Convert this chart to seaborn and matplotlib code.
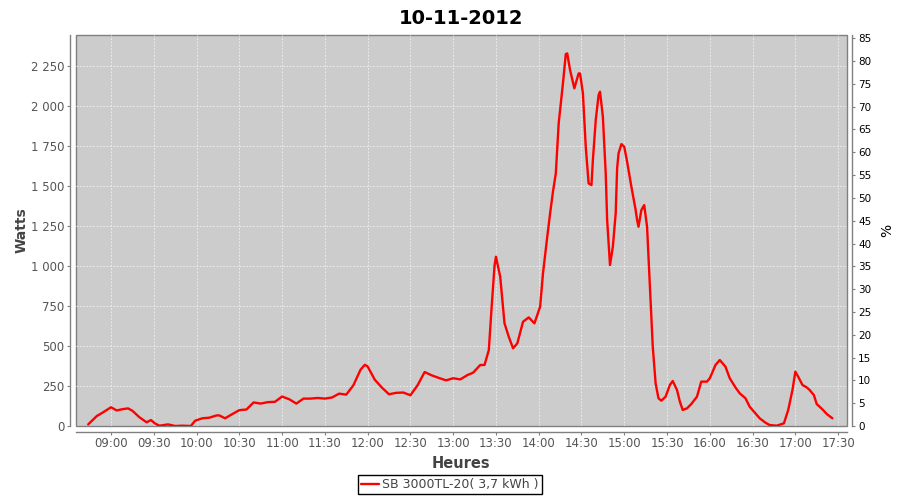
import pandas as pd
import numpy as np
import seaborn as sns
import matplotlib.pyplot as plt
import matplotlib.dates as mdates
from matplotlib.ticker import FuncFormatter, MultipleLocator

# Données (heure, puissance en W)
heures = ["08:44", "08:50", "08:54", "09:00", "09:04", "09:08", "09:12", "09:15", "09:20", "09:25",
          "09:28", "09:31", "09:34", "09:40", "09:45", "09:50", "09:56", "09:59", "10:04", "10:09",
          "10:14", "10:16", "10:20", "10:25", "10:30", "10:35", "10:40", "10:45", "10:50", "10:55",
          "11:00", "11:05", "11:10", "11:15", "11:20", "11:25", "11:30", "11:35", "11:40", "11:45",
          "11:50", "11:55", "11:58", "12:00", "12:05", "12:10", "12:15", "12:20", "12:25", "12:30",
          "12:35", "12:40", "12:45", "12:50", "12:55", "13:00", "13:05", "13:10", "13:14", "13:19",
          "13:22", "13:25", "13:27", "13:29", "13:30", "13:33", "13:36", "13:39", "13:42", "13:45",
          "13:49", "13:53", "13:57", "14:01", "14:03", "14:06", "14:08", "14:10", "14:12", "14:14",
          "14:17", "14:19", "14:20", "14:22", "14:25", "14:28", "14:29", "14:31", "14:33", "14:35",
          "14:37", "14:38", "14:40", "14:42", "14:43", "14:45", "14:47", "14:48", "14:50", "14:52",
          "14:54", "14:55", "14:56", "14:58", "15:00", "15:02", "15:05", "15:08", "15:09", "15:10",
          "15:12", "15:14", "15:16", "15:18", "15:20", "15:22", "15:24", "15:26", "15:29", "15:32",
          "15:34", "15:37", "15:39", "15:41", "15:44", "15:47", "15:51", "15:54", "15:58", "16:00",
          "16:04", "16:07", "16:11", "16:14", "16:18", "16:21", "16:25", "16:28", "16:32", "16:35",
          "16:39", "16:42", "16:47", "16:52", "16:55", "16:58", "17:00", "17:02", "17:05", "17:08",
          "17:10", "17:13", "17:15", "17:19", "17:22", "17:26"]
watts = [10, 62, 83, 117, 97, 105, 110, 95, 54, 23,
         37, 15, 2, 10, 0, 2, 0, 33, 48, 52,
         66, 66, 48, 74, 99, 103, 147, 140, 149, 151,
         184, 167, 140, 171, 171, 175, 171, 178, 202, 196,
         254, 351, 382, 372, 289, 240, 198, 207, 209, 192,
         254, 337, 316, 300, 285, 298, 291, 318, 333, 381,
         381, 474, 745, 1000, 1057, 932, 641, 557, 485, 516,
         651, 678, 641, 745, 953, 1182, 1328, 1463, 1577, 1889,
         2139, 2322, 2326, 2222, 2108, 2201, 2201, 2077, 1743, 1515,
         1504, 1660, 1910, 2066, 2087, 1931, 1577, 1286, 1005, 1119,
         1328, 1608, 1702, 1760, 1743, 1650, 1494, 1348, 1286, 1244,
         1348, 1379, 1244, 870, 495, 266, 173, 158, 183, 256,
         281, 225, 152, 100, 110, 137, 183, 277, 277, 298,
         381, 412, 370, 298, 241, 204, 173, 120, 79, 48,
         21, 6, 2, 17, 100, 225, 339, 308, 256, 241,
         225, 193, 137, 104, 75, 48]

jour = "2012-11-10"
titre = "10-11-2012"
serie = "SB 3000TL-20( 3,7 kWh )"

df = pd.DataFrame({"Heures": pd.to_datetime([jour + " " + h for h in heures]),
                   "Watts": watts})

sns.set_style("darkgrid", {"axes.facecolor": "#CCCCCC", "grid.color": "#F2F2F2",
                           "grid.linestyle": (0, (2, 2)), "axes.edgecolor": "#808080"})
plt.rcParams['font.family'] = ['DejaVu Sans']

fig = plt.figure(figsize=(9, 5), dpi=100)
ax = fig.add_axes([0.084, 0.148, 0.857, 0.782])
ax.grid(True, linewidth=0.6)

sns.lineplot(data=df, x="Heures", y="Watts", ax=ax, color="red", linewidth=1.7, label=serie)

ax.set_xlim(pd.Timestamp(jour + " 08:35:10"), pd.Timestamp(jour + " 17:36:10"))
ax.set_ylim(0, 2441)
ax.yaxis.set_major_locator(MultipleLocator(250))
ax.yaxis.set_major_formatter(FuncFormatter(lambda v, p: f"{v:,.0f}".replace(",", " ")))
ax.xaxis.set_major_locator(mdates.MinuteLocator(byminute=[0, 30]))
ax.xaxis.set_major_formatter(mdates.DateFormatter("%H:%M"))

# contour du graphique + axes décalés (style JFreeChart)
ax.patch.set_edgecolor("#808080")
ax.patch.set_linewidth(1)
for s in ["top", "right"]:
    ax.spines[s].set_visible(False)
for s in ["left", "bottom"]:
    ax.spines[s].set_position(("outward", 4))
    ax.spines[s].set_color("#808080")
    ax.spines[s].set_linewidth(1)
ax.tick_params(axis="both", length=2, width=0.8, color="#808080", labelsize=8.5,
               labelcolor="#555555", pad=2)
ax.tick_params(axis="x", bottom=True)
ax.tick_params(axis="y", left=True)

ax.set_xlabel("Heures", fontsize=10.5, fontweight="bold", color="#444444", labelpad=4)
ax.set_ylabel("Watts", fontsize=10, fontweight="bold", color="#444444")
ax.yaxis.set_label_coords(-0.061, 0.5)
ax.set_title(titre, fontsize=14, fontweight="bold", color="black", pad=8)

ax2 = ax.twinx()
ax2.set_ylim(0, 85.7)
ax2.yaxis.set_major_locator(MultipleLocator(5))
ax2.grid(False)
for s in ["top", "left", "bottom"]:
    ax2.spines[s].set_visible(False)
ax2.spines["right"].set_position(("outward", 4))
ax2.spines["right"].set_color("#808080")
ax2.spines["right"].set_linewidth(1)
ax2.tick_params(axis="y", right=True, length=2, width=0.8, color="#808080", labelsize=7.5,
                labelcolor="black", pad=2)
ax2.set_ylabel("%", fontsize=10, color="black")
ax2.yaxis.set_label_coords(1.043, 0.5)

ax.get_legend().remove()
h, l = ax.get_legend_handles_labels()
leg = fig.legend(h, l, loc="lower center", bbox_to_anchor=(0.5, 0.012), frameon=True,
                 fancybox=False, fontsize=9, handlelength=1.4, handletextpad=0.3,
                 borderpad=0.25, borderaxespad=0, facecolor="white", framealpha=1)
leg.get_frame().set_edgecolor("black")
leg.get_frame().set_linewidth(1)
for t in leg.get_texts():
    t.set_color("#444444")

fig.savefig("out.png", dpi=100, facecolor="white")
